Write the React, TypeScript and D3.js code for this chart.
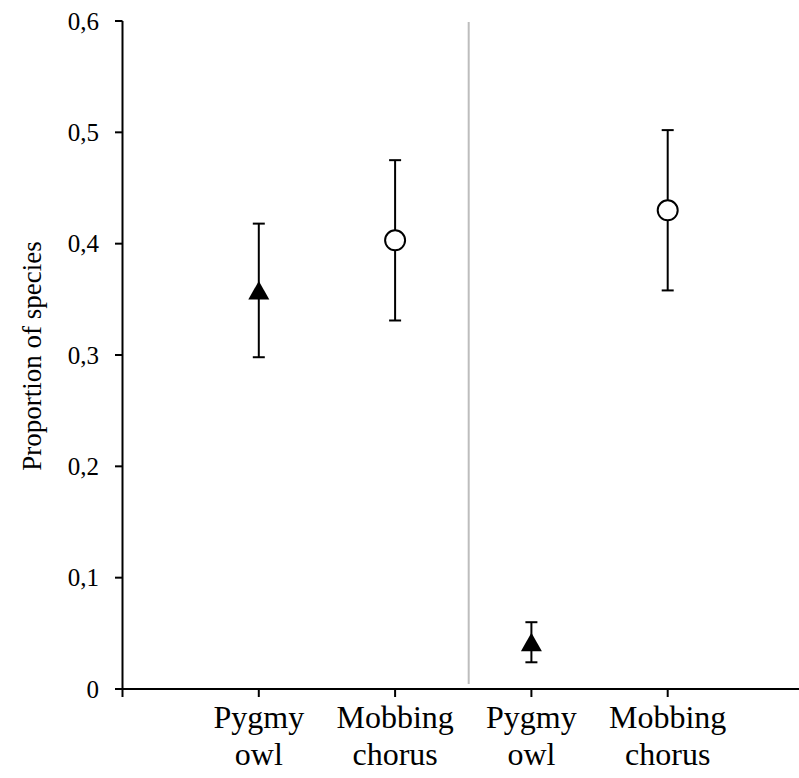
import React from "react";
import * as d3 from "d3";

const categoryLines: string[][] = [
  ["Pygmy", "owl"],
  ["Mobbing", "chorus"],
  ["Pygmy", "owl"],
  ["Mobbing", "chorus"],
];
const xPositions = [1, 2, 3, 4];
const means = [0.358, 0.403, 0.042, 0.43];
const errors = [0.06, 0.072, 0.018, 0.072];
const markers = ["triangle", "circle", "triangle", "circle"];
const yTicks = [0, 0.1, 0.2, 0.3, 0.4, 0.5, 0.6];
const xTicks = [0, 1, 2, 3, 4, 5];
const dividerX = 2.54;
const yTitle = "Proportion of species";

const W = 799;
const H = 778;
const FONT = '"Times New Roman", "Liberation Serif", Tinos, serif';

export default function App() {
  const x = d3.scaleLinear().domain([0, 5]).range([122.5, 804]);
  const y = d3.scaleLinear().domain([0, 0.6]).range([689, 21]);
  const fmt = (v: number) => (v === 0 ? "0" : d3.format(".1f")(v).replace(".", ","));

  return (
    <svg
      width={W}
      height={H}
      style={{ position: "absolute", left: 0, top: 0, background: "#fff", fontFamily: FONT }}
    >
      <rect x={0} y={0} width={W} height={H} fill="#fff" />
      {/* divider */}
      <line x1={x(dividerX)} x2={x(dividerX)} y1={22} y2={684} stroke="#bdbdbd" strokeWidth={2} />
      {/* y axis */}
      <line x1={x(0)} x2={x(0)} y1={y(0.6)} y2={y(0)} stroke="#000" strokeWidth={2} />
      {yTicks.map((t) => (
        <g key={t}>
          <line x1={115} x2={x(0)} y1={y(t)} y2={y(t)} stroke="#000" strokeWidth={2} />
          <text x={99} y={y(t)} dy="0.35em" textAnchor="end" fontSize={25} style={{ fontFamily: FONT }}>
            {fmt(t)}
          </text>
        </g>
      ))}
      {/* x axis */}
      <line x1={115} x2={x(5)} y1={y(0)} y2={y(0)} stroke="#000" strokeWidth={2} />
      {xTicks.map((t) => (
        <line key={t} x1={x(t)} x2={x(t)} y1={y(0)} y2={y(0) + 8} stroke="#000" strokeWidth={2} />
      ))}
      {categoryLines.map((lines, i) => (
        <g key={i}>
          {lines.map((s, j) => (
            <text
              key={j}
              x={x(xPositions[i])}
              y={728 + j * 37}
              textAnchor="middle"
              fontSize={32}
              style={{ fontFamily: FONT }}
            >
              {s}
            </text>
          ))}
        </g>
      ))}
      {/* y title */}
      <text
        transform={`translate(41, ${y(0.3) + 1}) rotate(-90)`}
        textAnchor="middle"
        fontSize={27}
        style={{ fontFamily: FONT }}
      >
        {yTitle}
      </text>
      {/* error bars and markers */}
      {means.map((m, i) => {
        const cx = x(xPositions[i]);
        const top = y(m + errors[i]);
        const bot = y(m - errors[i]);
        return (
          <g key={i}>
            <line x1={cx} x2={cx} y1={top} y2={bot} stroke="#000" strokeWidth={2} />
            <line x1={cx - 6} x2={cx + 6} y1={top} y2={top} stroke="#000" strokeWidth={2} />
            <line x1={cx - 6} x2={cx + 6} y1={bot} y2={bot} stroke="#000" strokeWidth={2} />
            {markers[i] === "triangle" ? (
              <path
                d={`M${cx},${y(m) - 9.5} L${cx + 10.5},${y(m) + 9} L${cx - 10.5},${y(m) + 9} Z`}
                fill="#000"
              />
            ) : (
              <circle cx={cx} cy={y(m)} r={10} fill="#fff" stroke="#000" strokeWidth={2} />
            )}
          </g>
        );
      })}
    </svg>
  );
}
